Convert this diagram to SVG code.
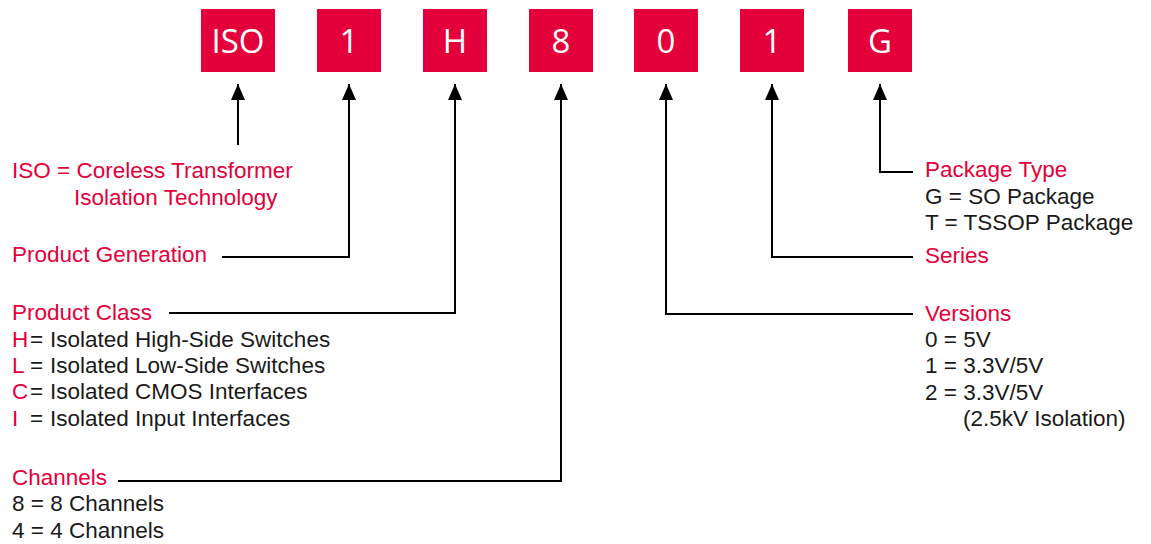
<svg xmlns="http://www.w3.org/2000/svg" width="1151" height="544" viewBox="0 0 1151 544">
<style>
.box{fill:#E4003A}
.bt{fill:#fff;font-family:"Open Sans","Noto Sans",sans-serif;font-size:33px;text-anchor:middle}
.t{font-family:"Liberation Sans",Arial,sans-serif;font-size:22.5px;fill:#1a1a1a}
.r{fill:#E4003A}
.ln{fill:none;stroke:#000;stroke-width:2}
</style>
<defs>
<marker id="ah" viewBox="0 0 16 14" refX="16" refY="7" markerWidth="16" markerHeight="14" markerUnits="userSpaceOnUse" orient="auto">
<path d="M16 7 L0 0 L0 14 Z" fill="#000"/>
</marker>
</defs>
<g id="box-iso"><rect class="box" x="201" y="9" width="74" height="63"/><text class="bt" x="238" y="53">ISO</text></g>
<g id="box-1a"><rect class="box" x="317" y="9" width="64" height="63"/><text class="bt" x="349" y="53">1</text></g>
<g id="box-h"><rect class="box" x="423" y="9" width="64" height="63"/><text class="bt" x="455" y="53">H</text></g>
<g id="box-8"><rect class="box" x="529" y="9" width="64" height="63"/><text class="bt" x="561" y="53">8</text></g>
<g id="box-0"><rect class="box" x="634" y="9" width="64" height="63"/><text class="bt" x="666" y="53">0</text></g>
<g id="box-1b"><rect class="box" x="740" y="9" width="64" height="63"/><text class="bt" x="772" y="53">1</text></g>
<g id="box-g"><rect class="box" x="848" y="9" width="64" height="63"/><text class="bt" x="880" y="53">G</text></g>
<g id="connectors">
<path class="ln" d="M238 145 V84" marker-end="url(#ah)"/>
<path class="ln" d="M222 257 H349 V84" marker-end="url(#ah)"/>
<path class="ln" d="M169 313 H455 V84" marker-end="url(#ah)"/>
<path class="ln" d="M118 481 H561 V84" marker-end="url(#ah)"/>
<path class="ln" d="M913 314 H666 V84" marker-end="url(#ah)"/>
<path class="ln" d="M913 257 H772 V84" marker-end="url(#ah)"/>
<path class="ln" d="M913 172 H880 V84" marker-end="url(#ah)"/>
</g>
<g id="label-iso">
<text class="t r" x="12" y="178">ISO = Coreless Transformer</text>
<text class="t r" x="74" y="205">Isolation Technology</text>
</g>
<g id="label-generation"><text class="t r" x="12" y="262">Product Generation</text></g>
<g id="label-class">
<text class="t r" x="12" y="320">Product Class</text>
<text class="t" x="12" y="347"><tspan class="r">H</tspan><tspan x="30">=</tspan><tspan x="50">Isolated High-Side Switches</tspan></text>
<text class="t" x="12" y="373"><tspan class="r">L</tspan><tspan x="30">=</tspan><tspan x="50">Isolated Low-Side Switches</tspan></text>
<text class="t" x="12" y="399"><tspan class="r">C</tspan><tspan x="30">=</tspan><tspan x="50">Isolated CMOS Interfaces</tspan></text>
<text class="t" x="12" y="426"><tspan class="r">I</tspan><tspan x="30">=</tspan><tspan x="50">Isolated Input Interfaces</tspan></text>
</g>
<g id="label-channels">
<text class="t r" x="12" y="485">Channels</text>
<text class="t" x="12" y="511">8 = 8 Channels</text>
<text class="t" x="12" y="538">4 = 4 Channels</text>
</g>
<g id="label-package">
<text class="t r" x="925" y="177">Package Type</text>
<text class="t" x="925" y="204">G = SO Package</text>
<text class="t" x="925" y="230">T = TSSOP Package</text>
</g>
<g id="label-series"><text class="t r" x="925" y="263">Series</text></g>
<g id="label-versions">
<text class="t r" x="925" y="321">Versions</text>
<text class="t" x="925" y="347">0 = 5V</text>
<text class="t" x="925" y="373">1 = 3.3V/5V</text>
<text class="t" x="925" y="400">2 = 3.3V/5V</text>
<text class="t" x="963" y="426">(2.5kV Isolation)</text>
</g>
</svg>
